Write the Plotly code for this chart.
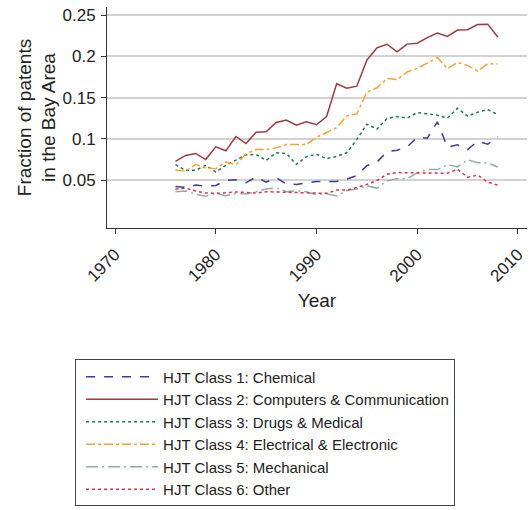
import plotly.graph_objects as go

years = list(range(1976, 2009))

chemical = [0.0424, 0.0412, 0.0440, 0.0428, 0.0436, 0.0496, 0.0504, 0.0468, 0.0540, 0.0476,
            0.0532, 0.0452, 0.0448, 0.0464, 0.0484, 0.0484, 0.0484, 0.0512, 0.0556, 0.0676,
            0.0720, 0.0844, 0.0864, 0.0904, 0.1020, 0.1008, 0.1208, 0.0900, 0.0928, 0.0872,
            0.0972, 0.0936, 0.1024]
computers = [0.0728, 0.0800, 0.0824, 0.0750, 0.0904, 0.0856, 0.1030, 0.0944, 0.1080, 0.1088,
             0.1200, 0.1228, 0.1168, 0.1208, 0.1172, 0.1270, 0.1670, 0.1616, 0.1640, 0.1956,
             0.2104, 0.2148, 0.2056, 0.2150, 0.2160, 0.2228, 0.2284, 0.2244, 0.2320, 0.2324,
             0.2388, 0.2392, 0.2236]
drugs = [0.0688, 0.0620, 0.0620, 0.0680, 0.0600, 0.0680, 0.0744, 0.0808, 0.0812, 0.0740,
         0.0832, 0.0824, 0.0692, 0.0784, 0.0816, 0.0760, 0.0788, 0.0832, 0.0992, 0.1180,
         0.1120, 0.1248, 0.1272, 0.1252, 0.1320, 0.1308, 0.1288, 0.1252, 0.1372, 0.1276,
         0.1324, 0.1356, 0.1296]
electrical = [0.0624, 0.0608, 0.0692, 0.0648, 0.0640, 0.0720, 0.0688, 0.0820, 0.0872, 0.0872,
              0.0892, 0.0932, 0.0932, 0.0932, 0.1020, 0.1080, 0.1136, 0.1280, 0.1304, 0.1568,
              0.1620, 0.1732, 0.1720, 0.1812, 0.1856, 0.1920, 0.1988, 0.1852, 0.1928, 0.1892,
              0.1824, 0.1912, 0.1908]
mechanical = [0.0360, 0.0368, 0.0328, 0.0304, 0.0340, 0.0312, 0.0340, 0.0332, 0.0360, 0.0392,
              0.0408, 0.0360, 0.0372, 0.0360, 0.0324, 0.0336, 0.0308, 0.0376, 0.0392, 0.0432,
              0.0404, 0.0492, 0.0516, 0.0520, 0.0588, 0.0628, 0.0628, 0.0688, 0.0660, 0.0748,
              0.0712, 0.0708, 0.0660]
other = [0.0392, 0.0404, 0.0368, 0.0344, 0.0340, 0.0348, 0.0356, 0.0352, 0.0344, 0.0360,
         0.0356, 0.0356, 0.0352, 0.0344, 0.0336, 0.0340, 0.0380, 0.0380, 0.0412, 0.0448,
         0.0496, 0.0572, 0.0592, 0.0592, 0.0592, 0.0584, 0.0584, 0.0584, 0.0632, 0.0536,
         0.0560, 0.0476, 0.0440]

names = ["HJT Class 1: Chemical",
         "HJT Class 2: Computers & Communication",
         "HJT Class 3: Drugs & Medical",
         "HJT Class 4: Electrical & Electronic",
         "HJT Class 5: Mechanical",
         "HJT Class 6: Other"]
series = [chemical, computers, drugs, electrical, mechanical, other]
colors = ["#3b3ba3", "#9b3a40", "#1e7a4c", "#f7a233", "#94aba2", "#d8344e"]
dashes = ["dash", "solid", "dot", "dashdot", "12px,4px,2px,4px", "dot"]
y_ticks = [0.05, 0.1, 0.15, 0.2, 0.25]
y_ticktext = ["0.05", "0.1", "0.15", "0.2", "0.25"]
x_ticks = [1970, 1980, 1990, 2000, 2010]

font_family = "Liberation Sans, Arial, Helvetica, sans-serif"

fig = go.Figure()
for name, vals, col, dsh in zip(names, series, colors, dashes):
    fig.add_trace(go.Scatter(x=years, y=vals, mode="lines", name=name,
                             line=dict(color=col, width=1.5, dash=dsh)))

fig.update_layout(
    width=530, height=510,
    margin=dict(l=107, r=3, t=7, b=280),
    paper_bgcolor="white", plot_bgcolor="white",
    font=dict(family=font_family, color="#222222"),
    xaxis=dict(range=[1969.2, 2010.9], tickvals=x_ticks, tickangle=-45,
               automargin=False, ticklabelstandoff=4,
               showgrid=False, zeroline=False, showline=True, linecolor="#333333",
               linewidth=1, ticks="outside", ticklen=5, tickcolor="#333333",
               tickfont=dict(size=17, color="#222222"),
               title=dict(text="Year", font=dict(size=19), standoff=9)),
    yaxis=dict(range=[-0.008, 0.26], tickvals=y_ticks, ticktext=y_ticktext,
               automargin=False, ticklabelstandoff=2,
               showgrid=True, gridcolor="#d2d2d2", gridwidth=1.5, zeroline=False,
               showline=True, linecolor="#333333", linewidth=1,
               ticks="outside", ticklen=5, tickcolor="#333333",
               tickfont=dict(size=17, color="#222222"),
               title=dict(text="Fraction of patents<br>in the Bay Area", font=dict(size=19), standoff=1)),
    legend=dict(x=-0.076, y=-0.595, xanchor="left", yanchor="top",
                bordercolor="#444444", borderwidth=1, bgcolor="white",
                font=dict(size=15, color="#222222"), itemwidth=72, indentation=5,
                tracegroupgap=0),
    showlegend=True,
)

fig.write_html("out.html", config={"displayModeBar": False},
               post_script="document.body.style.margin='0px';")
